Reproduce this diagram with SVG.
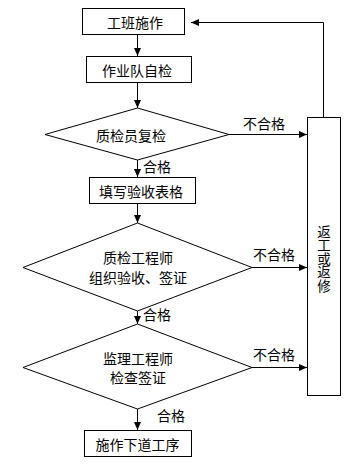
<svg xmlns="http://www.w3.org/2000/svg" width="353" height="466" viewBox="0 0 353 466">
<defs>
<style>
.box{fill:#fff;stroke:#000;stroke-width:1}
.ln{fill:none;stroke:#000;stroke-width:1}
text{font-family:"Noto Sans CJK SC","Liberation Sans",sans-serif;font-size:14px;fill:#000;dominant-baseline:central}
.c{text-anchor:middle}
.v{writing-mode:vertical-rl;text-anchor:middle;font-size:13.5px}
</style>
<marker id="ah" markerUnits="userSpaceOnUse" markerWidth="9" markerHeight="8" refX="8" refY="4" orient="auto">
<path d="M0,0.5 L8,4 L0,7.5 z" fill="#000"/>
</marker>
</defs>
<rect width="353" height="466" fill="#fff"/>
<g id="connectors">
<line class="ln" x1="137.5" y1="34.5" x2="137.5" y2="56" marker-end="url(#ah)"/>
<line class="ln" x1="137.5" y1="82.5" x2="137.5" y2="108" marker-end="url(#ah)"/>
<line class="ln" x1="137.5" y1="160" x2="137.5" y2="177" marker-end="url(#ah)"/>
<line class="ln" x1="137.5" y1="203.5" x2="137.5" y2="223" marker-end="url(#ah)"/>
<line class="ln" x1="137.5" y1="311" x2="137.5" y2="324" marker-end="url(#ah)"/>
<line class="ln" x1="137.5" y1="409" x2="137.5" y2="430" marker-end="url(#ah)"/>
<line class="ln" x1="229" y1="134.5" x2="307" y2="134.5" marker-end="url(#ah)"/>
<line class="ln" x1="252" y1="267.5" x2="307" y2="267.5" marker-end="url(#ah)"/>
<line class="ln" x1="252" y1="367.5" x2="307" y2="367.5" marker-end="url(#ah)"/>
<polyline class="ln" points="323.5,117.5 323.5,22.5 191,22.5" marker-end="url(#ah)"/>
<text x="264" y="123" class="c">不合格</text>
<text x="274" y="254" class="c">不合格</text>
<text x="274" y="354" class="c">不合格</text>
<text x="143" y="166">合格</text>
<text x="143" y="314">合格</text>
<text x="157" y="415">合格</text>
</g>
<g id="n1"><rect class="box" x="82.5" y="8.5" width="102" height="26"/><text x="135" y="21.5" class="c">工班施作</text></g>
<g id="n2"><rect class="box" x="86.5" y="56.5" width="105" height="26"/><text x="137" y="69.5" class="c">作业队自检</text></g>
<g id="n3"><polygon class="box" points="45,134.5 137.5,108 229,134.5 137.5,160"/><text x="131" y="134.5" class="c">质检员复检</text></g>
<g id="n4"><rect class="box" x="89.5" y="177.5" width="106" height="26"/><text x="141" y="190.5" class="c">填写验收表格</text></g>
<g id="n5"><polygon class="box" points="23,267.5 137.5,223 252,267.5 137.5,311"/><text class="c"><tspan x="138" y="257">质检工程师</tspan><tspan x="138" y="277">组织验收、签证</tspan></text></g>
<g id="n6"><polygon class="box" points="23,367.5 137.5,324 252,367.5 137.5,409"/><text class="c"><tspan x="138" y="358">监理工程师</tspan><tspan x="138" y="377">检查签证</tspan></text></g>
<g id="n7"><rect class="box" x="84.5" y="430.5" width="107" height="26"/><text x="137.5" y="443.5" class="c">施作下道工序</text></g>
<g id="n8"><rect class="box" x="307.5" y="117.5" width="33" height="278"/>
<text x="324" y="258.5" class="v">返工或返修</text></g>
</svg>
